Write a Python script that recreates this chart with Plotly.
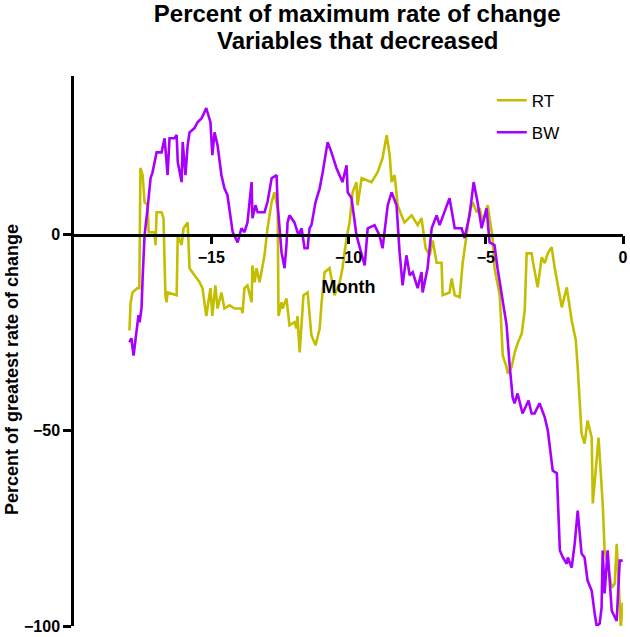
import plotly.graph_objects as go

# Months before event (x) and percent of greatest rate of change (y)
rt_month = [-17.98, -17.94, -17.87, -17.69, -17.62, -17.58, -17.50, -17.43, -17.32, -17.28,
            -17.07, -17.03, -16.99, -16.81, -16.74, -16.67, -16.63, -16.59, -16.26, -16.22,
            -16.08, -16.01, -15.86, -15.79, -15.61, -15.43, -15.32, -15.18, -15.03, -14.96,
            -14.85, -14.77, -14.63, -14.52, -14.33, -14.15, -13.90, -13.86, -13.79, -13.68,
            -13.53, -13.50, -13.42, -13.35, -13.24, -13.06, -12.95, -12.80, -12.70, -12.58,
            -12.55, -12.44, -12.40, -12.26, -12.15, -11.97, -11.89, -11.86, -11.78, -11.71,
            -11.64, -11.49, -11.35, -11.20, -11.05, -10.98, -10.87, -10.69, -10.51, -10.32,
            -10.22, -10.07, -9.96, -9.85, -9.71, -9.67, -9.52, -9.16, -8.94, -8.76,
            -8.61, -8.50, -8.43, -8.32, -8.21, -8.07, -7.96, -7.70, -7.48, -7.34,
            -7.19, -7.04, -6.93, -6.79, -6.61, -6.57, -6.32, -6.24, -6.13, -5.95,
            -5.84, -5.70, -5.59, -5.48, -5.33, -5.22, -5.11, -4.93, -4.86, -4.75,
            -4.68, -4.49, -4.38, -4.24, -4.20, -4.06, -3.95, -3.84, -3.69, -3.58,
            -3.51, -3.33, -3.29, -3.11, -2.96, -2.85, -2.74, -2.60, -2.49, -2.38,
            -2.23, -2.05, -1.87, -1.72, -1.65, -1.51, -1.40, -1.29, -1.14, -1.10,
            -0.96, -0.89, -0.74, -0.67, -0.56, -0.41, -0.30, -0.23, -0.16, -0.08, -0.01]
rt_pct = [-24.5, -17.6, -14.8, -13.7, -13.7, 17.0, 15.2, 8.3, 7.5, 0.6,
          0.6, -2.7, 5.7, 5.7, 4.2, -15.5, -17.3, -14.8, -15.5, -0.2,
          -2.7, 1.6, 3.1, -8.6, -10.4, -12.1, -13.7, -20.8, -13.7, -20.8,
          -13.0, -18.9, -14.8, -18.9, -18.1, -18.9, -18.9, -20.1, -13.7, -13.0,
          -17.3, -7.9, -12.2, -8.6, -12.2, -5.3, 1.6, 8.3, 10.8, 6.7,
          -20.8, -17.3, -18.9, -16.3, -23.2, -22.4, -24.0, -20.8, -30.1, -23.2,
          -15.5, -14.8, -25.8, -28.3, -24.0, -17.3, -9.6, -8.6, -15.5, -12.2,
          -8.6, -0.9, 3.1, 10.8, 13.4, 7.5, 14.4, 13.4, 15.9, 19.5,
          25.4, 20.3, 13.4, 15.2, 7.5, 4.9, 3.1, 4.9, 2.4, 4.2,
          -3.5, -5.3, -1.5, -7.2, -7.2, -15.5, -14.8, -11.2, -15.5, -16.0,
          -7.2, -0.2, 5.7, 8.3, 5.7, 6.7, 3.1, 7.5, 4.2, -0.9,
          -8.6, -15.5, -30.9, -33.9, -35.5, -33.9, -30.3, -27.8, -25.3, -19.3,
          -4.8, -4.8, -6.6, -13.5, -5.8, -7.3, -4.8, -3.2, -8.4, -12.5,
          -18.6, -13.5, -21.9, -27.0, -33.9, -50.8, -53.4, -47.5, -51.9, -68.7,
          -58.5, -51.9, -68.7, -80.7, -84.1, -90.2, -89.2, -79.0, -88.4, -100.4, -94.0]

bw_month = [-17.98, -17.91, -17.83, -17.72, -17.65, -17.61, -17.54, -17.50, -17.43, -17.32,
            -17.21, -17.14, -16.99, -16.81, -16.70, -16.59, -16.52, -16.34, -16.26, -16.22,
            -16.08, -16.04, -15.94, -15.86, -15.79, -15.61, -15.50, -15.35, -15.18, -15.14,
            -15.03, -14.96, -14.88, -14.77, -14.63, -14.52, -14.41, -14.22, -14.04, -13.90,
            -13.79, -13.68, -13.53, -13.50, -13.39, -13.31, -13.06, -12.95, -12.80, -12.62,
            -12.58, -12.44, -12.33, -12.26, -12.22, -12.15, -11.97, -11.82, -11.71, -11.60,
            -11.49, -11.42, -11.35, -11.20, -11.05, -10.94, -10.76, -10.62, -10.44, -10.22,
            -10.07, -10.03, -9.89, -9.71, -9.52, -9.41, -9.30, -9.05, -8.87, -8.76,
            -8.57, -8.43, -8.25, -8.14, -8.03, -7.89, -7.77, -7.66, -7.48, -7.34,
            -7.30, -7.12, -6.97, -6.79, -6.68, -6.32, -6.13, -5.88, -5.77, -5.59,
            -5.44, -5.30, -5.15, -4.97, -4.86, -4.68, -4.57, -4.42, -4.24, -4.13,
            -4.02, -3.95, -3.84, -3.66, -3.44, -3.33, -3.22, -3.04, -2.85, -2.74,
            -2.56, -2.41, -2.30, -2.19, -2.05, -2.01, -1.87, -1.76, -1.65, -1.51,
            -1.40, -1.29, -1.14, -1.03, -0.96, -0.85, -0.78, -0.74, -0.67, -0.56,
            -0.41, -0.23, -0.12, -0.01]
bw_pct = [-27.5, -26.5, -30.9, -24.0, -20.6, -22.4, -18.8, -11.2, -0.2, 6.7,
          14.4, 15.9, 21.0, 21.0, 24.6, 15.2, 24.6, 24.6, 25.4, 18.5,
          13.4, 23.6, 15.2, 22.8, 26.1, 27.2, 28.7, 29.7, 32.3, 31.3,
          28.7, 20.3, 26.1, 22.8, 15.2, 11.8, 10.1, 0.6, -2.0, 1.6,
          0.6, 3.1, 13.4, 4.2, 7.5, 5.7, 5.7, 8.3, 14.4, 15.2,
          7.5, -4.5, -8.6, -2.7, 3.1, 4.9, 3.1, -0.2, 1.6, -3.5,
          -3.5, 1.6, 2.4, 8.3, 11.8, 15.9, 23.6, 21.0, 17.0, 13.4,
          17.7, 10.8, 9.3, -0.2, -5.3, -7.9, 1.6, 2.4, -0.2, -3.5,
          7.5, 10.8, 7.5, -4.5, -13.0, -5.3, -10.4, -9.6, -13.7, -9.6,
          -14.8, -8.6, 1.6, 4.9, 2.4, 9.3, 1.6, 1.6, -0.9, 4.9,
          13.4, 8.3, 1.6, 6.7, -2.0, -2.7, -8.6, -15.5, -23.2, -33.4,
          -41.6, -43.1, -40.6, -45.7, -42.4, -45.7, -45.7, -43.1, -46.7, -50.0,
          -60.3, -61.0, -80.7, -82.5, -84.1, -82.5, -85.1, -79.0, -70.5, -81.5,
          -82.5, -88.4, -91.0, -96.9, -100.0, -99.4, -95.3, -80.7, -91.7, -80.7,
          -96.1, -98.7, -83.3, -83.3]

x_ticks = [-15, -10, -5, 0]
y_ticks = [-100, -50, 0]
y_range = [-100, 40.5]

FONT = "Arial, Liberation Sans, sans-serif"

fig = go.Figure()
fig.add_trace(go.Scatter(x=rt_month, y=rt_pct, mode="lines", name="RT",
                         line=dict(color="#C4BE00", width=2.6), legend="legend"))
fig.add_trace(go.Scatter(x=bw_month, y=bw_pct, mode="lines", name="BW",
                         line=dict(color="#A800FF", width=2.6), legend="legend2"))

zero_frac = (0 - y_range[0]) / (y_range[1] - y_range[0])

fig.update_layout(
    width=630, height=637,
    margin=dict(l=74, r=7, t=76, b=11, autoexpand=False),
    paper_bgcolor="white", plot_bgcolor="white",
    font=dict(family=FONT, color="black"),
    title=dict(text="Percent of maximum rate of change",
               x=0.567, xanchor="center", y=0.979, yanchor="middle", yref="container",
               font=dict(size=24, family=FONT, weight="bold", color="black")),
    xaxis=dict(range=[-20, 0], anchor="free", position=zero_frac, automargin=False,
               tickvals=x_ticks, ticks="outside", ticklen=8, tickwidth=2.5,
               tickcolor="black", showline=True, linecolor="black", linewidth=2.5,
               showgrid=False, zeroline=False,
               tickfont=dict(size=16, family=FONT, weight="bold"),
               title=dict(text="Month", standoff=14,
                          font=dict(size=18, family=FONT, weight="bold"))),
    yaxis=dict(range=y_range, tickvals=y_ticks, ticks="outside", ticklen=8,
               tickwidth=2.5, tickcolor="black", showline=True, linecolor="black",
               linewidth=2.5, showgrid=False, zeroline=False, automargin=False,
               tickfont=dict(size=16, family=FONT, weight="bold")),
    legend=dict(x=0.761, xanchor="left", y=0.955, yanchor="middle",
                bgcolor="rgba(0,0,0,0)", font=dict(size=17, family=FONT)),
    legend2=dict(x=0.761, xanchor="left", y=0.897, yanchor="middle",
                 bgcolor="rgba(0,0,0,0)", font=dict(size=17, family=FONT)),
    showlegend=True,
    annotations=[
        dict(text="Variables that decreased", xref="paper", yref="paper",
             x=0.5155, y=1.0645, xanchor="center", yanchor="middle", showarrow=False,
             font=dict(size=24, family=FONT, weight="bold", color="black")),
        dict(text="Percent of greatest rate of change", textangle=-90,
             xref="paper", yref="paper", x=-0.113, y=0.467,
             xanchor="center", yanchor="middle", showarrow=False,
             font=dict(size=18, family=FONT, weight="bold", color="black")),
    ],
)

fig.write_html("out.html", config={"displayModeBar": False},
               post_script="document.body.style.margin='0';document.body.style.overflow='hidden';")
